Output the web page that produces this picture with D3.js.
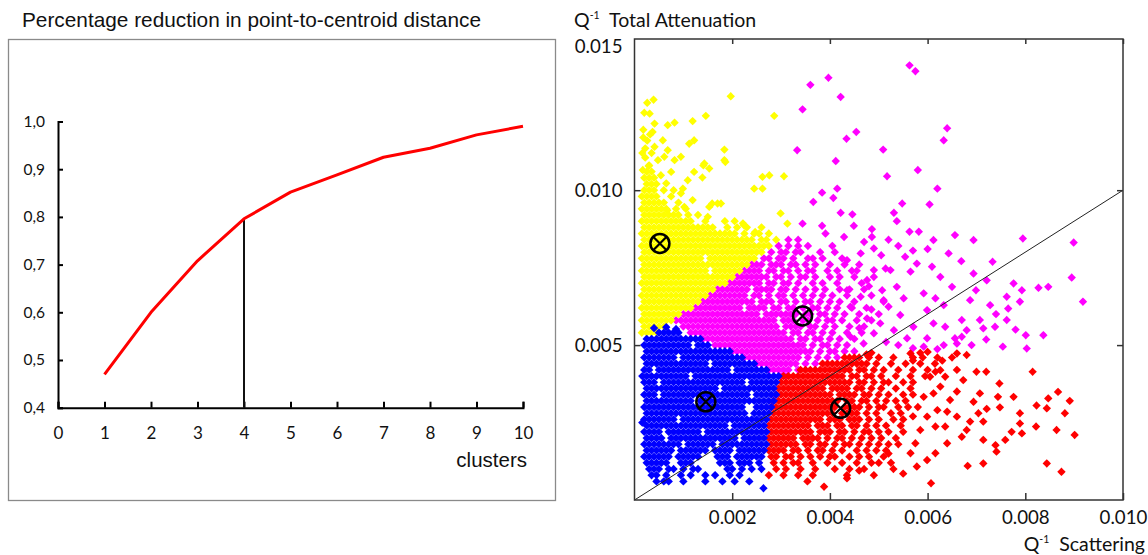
<!DOCTYPE html>
<html>
<head>
<meta charset="utf-8">
<script src="https://cdn.jsdelivr.net/npm/d3@7"></script>
<style>
  body { margin: 0; background: #fff; }
  svg { display: block; }
  .tick text { font-family: Lato, "Open Sans", sans-serif; fill: #111; }
</style>
</head>
<body>
<svg id="chart"></svg>
<script>
// --- Left panel data: reduction vs number of clusters ---
const clusterTicks = [0, 1, 2, 3, 4, 5, 6, 7, 8, 9, 10];
const clusterCounts = [1, 2, 3, 4, 5, 6, 7, 8, 9, 10];
const reduction = [0.47, 0.60, 0.708, 0.796, 0.852, 0.888, 0.925, 0.944, 0.972, 0.99];
const reductionTicks = [0.4, 0.5, 0.6, 0.7, 0.8, 0.9, 1.0];
const chosenK = 4;

// --- Right panel data (values in units of 1e-4) ---
// rows: [y, x, x, x, ...]
const blueRows = [
  [54, 5, 6, 7, 8, 9],
  [52, 2.5, 3.5, 4.5, 5.5, 6.5, 7.5, 8.5, 9.5, 10.5, 11.5, 12.5, 13.5],
  [50, 2, 3, 4, 5, 6, 7, 8, 9, 10, 11, 13, 14, 15],
  [48, 2.5, 3.5, 4.5, 5.5, 6.5, 7.5, 8.5, 9.5, 10.5, 11.5, 12.5, 13.5, 14.5, 15.5, 16.5, 17.5, 18.5, 19.5],
  [46, 2, 3, 4, 5, 6, 7, 8, 10, 11, 12, 13, 14, 15, 16, 17, 18, 19, 20, 21, 22],
  [44, 2.5, 3.5, 4.5, 5.5, 6.5, 7.5, 8.5, 9.5, 10.5, 11.5, 12.5, 13.5, 14.5, 16.5, 17.5, 18.5, 19.5, 20.5, 21.5, 22.5, 23.5, 24.5],
  [42, 2, 3, 5, 6, 7, 8, 9, 10, 11, 12, 13, 14, 15, 16, 17, 18, 19, 21, 22, 23, 24, 25, 26, 27],
  [40, 2.5, 3.5, 4.5, 5.5, 6.5, 7.5, 8.5, 9.5, 10.5, 12.5, 13.5, 14.5, 15.5, 16.5, 17.5, 18.5, 19.5, 20.5, 21.5, 22.5, 23.5, 24.5, 25.5, 26.5, 27.5, 28.5, 29.5],
  [38, 2, 3, 4, 6, 7, 8, 9, 10, 11, 12, 13, 14, 15, 16, 17, 18, 19, 20, 21, 22, 24, 25, 26, 27, 28, 29],
  [36, 2.5, 3.5, 4.5, 5.5, 6.5, 7.5, 8.5, 9.5, 10.5, 11.5, 12.5, 13.5, 14.5, 15.5, 16.5, 18.5, 19.5, 20.5, 21.5, 22.5, 23.5, 24.5, 25.5, 26.5, 27.5, 28.5],
  [34, 2, 3, 4, 6, 7, 8, 9, 10, 11, 12, 13, 14, 15, 16, 17, 18, 19, 20, 21, 22, 23, 25, 26, 27, 28, 29],
  [32, 2.5, 3.5, 4.5, 5.5, 6.5, 7.5, 8.5, 9.5, 10.5, 11.5, 13.5, 14.5, 15.5, 16.5, 17.5, 18.5, 19.5, 20.5, 21.5, 22.5, 23.5, 24.5, 25.5, 26.5, 27.5, 28.5],
  [30, 2, 3, 4, 5, 6, 7, 8, 9, 10, 11, 12, 13, 14, 15, 16, 17, 18, 19, 20, 21, 22, 25, 26, 27, 28],
  [28, 2.5, 3.5, 4.5, 5.5, 6.5, 7.5, 8.5, 9.5, 10.5, 11.5, 12.5, 13.5, 14.5, 15.5, 16.5, 17.5, 18.5, 19.5, 20.5, 21.5, 22.5, 24.5, 25.5, 26.5, 27.5],
  [26, 2, 3, 4, 5, 6, 7, 8, 10, 11, 12, 13, 14, 15, 16, 17, 18, 19, 20, 21, 22, 23, 24, 25, 26, 27],
  [24, 2.5, 3.5, 4.5, 5.5, 6.5, 7.5, 8.5, 9.5, 10.5, 11.5, 12.5, 13.5, 14.5, 15.5, 16.5, 17.5, 18.5, 20.5, 21.5, 22.5, 23.5, 24.5, 25.5, 26.5],
  [22, 2, 3, 4, 5, 7, 8, 9, 10, 11, 12, 13, 15, 16, 17, 18, 19, 20, 21, 22, 23, 24, 25, 26, 27],
  [20, 2.5, 3.5, 4.5, 5.5, 7.5, 8.5, 9.5, 10.5, 11.5, 12.5, 13.5, 14.5, 15.5, 16.5, 17.5, 18.5, 19.5, 20.5, 22.5, 23.5, 24.5, 25.5, 26.5],
  [18, 2, 3, 4, 5, 6, 7, 8, 9, 11, 12, 13, 14, 15, 16, 18, 19, 20, 21, 22, 23, 24, 25, 26, 27],
  [16, 2.5, 3.5, 4.5, 5.5, 6.5, 7.5, 9.5, 10.5, 11.5, 12.5, 13.5, 14.5, 16.5, 17.5, 18.5, 19.5, 21.5, 22.5, 23.5, 24.5, 25.5, 26.5],
  [14, 2, 3, 4, 5, 6, 7, 9, 10, 11, 12, 13, 17, 18, 19, 21, 22, 23, 24, 25, 26],
  [12, 2.5, 3.5, 4.5, 5.5, 6.5, 9.5, 10.5, 11.5, 17.5, 18.5, 19.5, 21.5, 22.5, 23.5, 25.5],
  [10, 3, 4, 5, 7, 8, 10, 12, 13, 19, 20, 22, 24, 26],
  [8, 3.5, 4.5, 6.5, 9.5, 11.5, 14.5, 16.5, 19.5, 21.5],
  [6, 4.5, 6, 7, 10, 14.5, 18, 20.5, 23.5]
];
const blueExtra = [[26.4, 3.8], [4, 55.5], [6.5, 55.8], [1.6, 40], [1.6, 25], [8.5, 55.2]];

const yellowRows = [
  [106, 2.5, 3.5],
  [104, 2, 3, 4],
  [102, 2.5, 3.5, 4.5],
  [100, 2, 3, 4, 6],
  [98, 1.5, 2.5, 3.5, 4.5, 7.5],
  [96, 2, 3, 4, 5, 6, 9],
  [94, 1.5, 2.5, 3.5, 4.5, 5.5, 6.5, 8.5, 10.5],
  [92, 2, 3, 4, 5, 6, 7, 8, 9, 11, 13],
  [90, 1.5, 2.5, 3.5, 4.5, 5.5, 6.5, 7.5, 8.5, 9.5, 10.5, 11.5, 14.5, 18.5, 20.5],
  [88, 2, 3, 4, 5, 6, 7, 8, 9, 10, 11, 12, 13, 14, 15, 16, 19, 21, 23, 26],
  [86, 1.5, 2.5, 3.5, 4.5, 5.5, 6.5, 7.5, 8.5, 9.5, 10.5, 11.5, 12.5, 13.5, 14.5, 15.5, 16.5, 17.5, 18.5, 19.5, 20.5, 22.5, 24.5, 25.5, 27.5],
  [84, 2, 3, 4, 5, 6, 7, 8, 9, 10, 11, 12, 13, 14, 15, 16, 17, 18, 19, 20, 21, 22, 23, 24, 26, 27, 29],
  [82, 1.5, 2.5, 3.5, 4.5, 5.5, 6.5, 7.5, 8.5, 9.5, 10.5, 11.5, 12.5, 13.5, 14.5, 15.5, 16.5, 17.5, 18.5, 19.5, 20.5, 21.5, 22.5, 23.5, 24.5, 25.5, 26.5, 27.5],
  [80, 2, 3, 4, 5, 6, 7, 8, 9, 10, 11, 12, 13, 14, 15, 16, 17, 18, 19, 20, 21, 22, 23, 24, 25, 26],
  [78, 1.5, 2.5, 3.5, 4.5, 5.5, 6.5, 7.5, 8.5, 9.5, 10.5, 11.5, 12.5, 13.5, 15.5, 16.5, 17.5, 18.5, 19.5, 20.5, 21.5, 22.5, 23.5, 24.5],
  [76, 2, 3, 4, 5, 6, 7, 8, 9, 10, 11, 12, 13, 14, 15, 16, 17, 18, 19, 20, 21, 22, 23],
  [74, 1.5, 2.5, 3.5, 4.5, 5.5, 6.5, 7.5, 8.5, 9.5, 10.5, 11.5, 12.5, 13.5, 14.5, 16.5, 17.5, 18.5, 19.5, 20.5, 21.5],
  [72, 2, 3, 4, 5, 6, 7, 8, 9, 10, 11, 12, 13, 14, 15, 16, 17, 18, 19, 20],
  [70, 1.5, 2.5, 3.5, 4.5, 5.5, 6.5, 7.5, 8.5, 9.5, 10.5, 11.5, 12.5, 13.5, 14.5, 15.5, 16.5, 17.5, 18.5],
  [68, 2, 3, 4, 5, 6, 7, 8, 9, 10, 11, 12, 13, 14, 15, 16],
  [66, 1.5, 2.5, 3.5, 4.5, 5.5, 6.5, 7.5, 8.5, 9.5, 10.5, 11.5, 12.5, 13.5, 14.5],
  [64, 2, 3, 4, 5, 6, 7, 8, 9, 10, 11, 12, 13],
  [62, 1.5, 2.5, 3.5, 4.5, 5.5, 6.5, 7.5, 8.5, 9.5, 10.5, 11.5],
  [60, 2, 3, 4, 5, 6, 7, 8, 9],
  [58, 1.5, 2.5, 3.5, 4.5, 5.5, 6.5, 7.5],
  [56, 2, 3, 4, 5, 6],
  [54, 1.5, 2.5, 3.5, 4.5]
];
const yellowExtra = [
  [2.6, 128.2], [3.9, 129.2], [2.0, 125], [3.1, 124.7], [4.1, 121.5], [6.8, 121], [8.2, 121.8],
  [11.9, 122.3], [14.6, 124], [19.7, 130.3], [28.6, 124], [3.7, 118.8], [5.8, 116.1], [4.1, 114],
  [12.2, 116.1], [11.2, 115], [6.8, 112.9], [18.4, 113.1], [18.4, 109.7], [14.3, 108.6], [15.3, 107],
  [12.2, 105.9], [13.9, 104.1], [9.5, 110.8], [6.1, 110.8], [4.8, 109.7], [8.2, 109.7], [26.2, 104.3],
  [27.6, 104.8], [30.6, 104.5], [24.5, 100.5], [26.2, 100.5], [9.9, 100.5], [5.4, 104.8], [6.5, 102.2],
  [11.9, 96.8], [15.3, 94.6], [17.7, 95.7], [22.4, 88.7], [29.9, 92.5], [31.3, 89.2], [17, 95.7],
  [10.2, 94.6], [9.5, 99], [15, 91.4], [10.9, 103.2], [7.5, 105.9], [14.1, 108], [18.6, 109.1],
  [15.9, 95.7], [22.2, 89.3], [24.7, 86.5], [8, 100], [6.7, 93.5], [3, 108], [2.2, 110.5], [3.5, 112],
  [2.6, 116], [3.2, 118], [1.8, 119.5], [2.2, 113.5], [1.8, 117], [1.6, 112], [2.9, 107.8], [1.7, 106.5]
];

const magentaRows = [
  [84, 31.5, 33.5],
  [82, 29.5, 31.5, 33.5, 35.5, 40.5],
  [80, 28, 30, 31, 33, 34, 38, 41],
  [78, 26.5, 27.5, 29.5, 30.5, 32.5, 35.5, 36.5, 38.5, 42.5],
  [76, 24, 25, 26, 28, 29, 30, 32, 33, 35, 37, 40, 43, 46],
  [74, 22.5, 23.5, 24.5, 25.5, 27.5, 28.5, 30.5, 31.5, 33.5, 35.5, 36.5, 39.5, 41.5, 44.5],
  [72, 21, 22, 23, 24, 25, 26, 27, 29, 30, 32, 34, 35, 37, 40, 42, 45, 49],
  [70, 19.5, 20.5, 21.5, 22.5, 23.5, 24.5, 25.5, 27.5, 28.5, 30.5, 31.5, 33.5, 36.5, 38.5, 41.5, 46.5],
  [68, 17, 18, 19, 20, 21, 22, 23, 25, 26, 27, 28, 30, 31, 33, 35, 37, 39, 42, 44, 47],
  [66, 15.5, 16.5, 17.5, 18.5, 19.5, 20.5, 21.5, 22.5, 24.5, 25.5, 27.5, 29.5, 30.5, 32.5, 34.5, 36.5, 38.5, 40.5, 43.5, 48.5],
  [64, 14, 15, 16, 17, 18, 19, 20, 21, 22, 23, 24, 26, 27, 28, 30, 31, 33, 35, 36, 38, 40, 42, 45, 51],
  [62, 12.5, 13.5, 14.5, 15.5, 16.5, 17.5, 18.5, 19.5, 20.5, 21.5, 23.5, 24.5, 25.5, 26.5, 28.5, 29.5, 31.5, 32.5, 34.5, 36.5, 37.5, 39.5, 41.5, 44.5, 47.5],
  [60, 10, 11, 12, 13, 14, 15, 16, 17, 18, 19, 20, 21, 22, 23, 24, 25, 27, 28, 29, 30, 31, 32, 33, 35, 36, 38, 39, 41, 43, 46, 50],
  [58, 8.5, 9.5, 10.5, 11.5, 12.5, 13.5, 14.5, 15.5, 16.5, 17.5, 18.5, 19.5, 20.5, 21.5, 22.5, 23.5, 24.5, 25.5, 26.5, 27.5, 28.5, 30.5, 31.5, 32.5, 34.5, 35.5, 37.5, 39.5, 40.5, 42.5, 45.5, 48.5],
  [56, 10, 11, 12, 13, 14, 15, 16, 17, 18, 19, 20, 21, 22, 23, 24, 25, 26, 27, 28, 29, 31, 32, 33, 34, 36, 37, 39, 41, 44, 47],
  [54, 11.5, 12.5, 13.5, 14.5, 15.5, 16.5, 17.5, 18.5, 19.5, 20.5, 21.5, 22.5, 23.5, 24.5, 25.5, 26.5, 27.5, 28.5, 29.5, 30.5, 32.5, 33.5, 35.5, 36.5, 38.5, 40.5, 43.5, 46.5],
  [52, 14, 15, 16, 17, 18, 19, 20, 21, 22, 23, 24, 25, 26, 27, 28, 29, 30, 31, 32, 34, 35, 37, 38, 40, 42, 45],
  [50, 16.5, 17.5, 18.5, 19.5, 20.5, 21.5, 22.5, 23.5, 24.5, 25.5, 26.5, 27.5, 28.5, 29.5, 30.5, 31.5, 32.5, 33.5, 34.5, 36.5, 38.5, 39.5, 41.5, 43.5],
  [48, 20, 21, 22, 23, 24, 25, 26, 27, 28, 29, 30, 31, 32, 33, 34, 35, 36, 38, 40, 41, 43, 45],
  [46, 22.5, 23.5, 24.5, 25.5, 26.5, 27.5, 28.5, 29.5, 30.5, 31.5, 32.5, 33.5, 35.5, 37.5, 39.5, 41.5],
  [44, 25, 26, 27, 28, 29, 30, 31, 32, 33, 35, 37],
  [42, 27.5, 28.5, 29.5, 30.5, 31.5, 33.5],
  [40, 30, 31]
];
const magentaExtra = [
  [56.3, 140.3], [57.5, 138.4], [39.7, 136.3], [36, 134], [42.2, 130.1], [34.4, 126.1], [64, 120],
  [63.3, 116.1], [45.4, 118.8], [43.4, 116.6], [33.3, 112.9], [50.9, 113.1], [41.2, 109.4], [58, 106.5],
  [51.7, 104.5], [62, 100.5], [41.5, 100.5], [38.4, 99.2], [40.7, 97.5], [36.6, 96.2], [54.8, 95.7],
  [60.4, 95.4], [53.1, 92.7], [42.2, 92.7], [44.6, 92.2], [53.7, 90], [34.4, 89.2], [44.9, 88.5],
  [38.4, 88.5], [39.1, 86], [48.6, 87.4], [56.3, 86.6], [58.2, 86.6], [65.6, 85.5], [69.4, 83.9],
  [79.5, 84.4], [89.9, 83.1], [61.2, 83.9], [47, 83.3], [42.9, 84.9], [48.6, 84.9],
  [64.3, 79.6], [66.9, 77.1], [73.3, 76.9], [69.4, 73.1], [72.1, 70.9], [65, 68.8], [69.9, 67.7],
  [77.6, 69.9], [79.3, 67.7], [82.7, 68.5], [84.7, 68.8], [89.5, 71.8], [91.8, 64], [78.9, 64],
  [76.2, 65.6], [76.5, 61.8], [72.8, 62.9], [68.7, 64.5], [67, 58.1], [70.7, 58.1], [73.8, 55.9],
  [76.2, 58.1], [71.4, 55.4], [68, 54.8], [80.1, 53.2], [83.7, 53.2], [80.3, 48.9], [75.4, 49.5],
  [69, 50], [67, 52.7], [65.6, 52.2], [63.6, 55.9], [61.2, 57], [59.9, 61.3], [63.3, 62.9], [61.6, 65.1],
  [59.2, 66.7], [62.6, 72], [60.9, 75.3], [57.8, 76.3], [56.5, 73.7], [55.4, 78.5], [51.4, 74.7],
  [52.4, 74.2], [49, 74.2], [47.6, 71], [50.7, 67.7], [53.7, 68.8], [55.1, 65.1], [52, 62.4],
  [54.4, 59.7], [57.1, 55.9], [59.9, 52.2], [63.3, 50], [59.2, 49.5], [55.8, 52.2], [53.1, 54.8],
  [50.3, 57], [47.6, 58.6], [49, 53.8], [46.9, 50.5], [44.2, 52.7], [44.2, 62.4], [46.3, 65.6],
  [43.5, 67.7], [46.3, 79.6], [49, 81.2], [43.5, 77.4], [50.5, 79], [52, 84], [45.5, 74], [48, 69],
  [51, 64.5], [48.5, 61.5], [46, 55.5], [51.5, 51], [54, 50], [57, 49], [62, 48.7], [66, 50.5],
  [72, 51.8], [78, 55], [74, 60], [60, 81], [57, 80.5], [54, 82]
];

const redRows = [
  [46, 43, 44, 45, 46, 48, 50, 53, 57, 59, 62, 65],
  [44, 38.5, 39.5, 40.5, 41.5, 42.5, 43.5, 44.5, 45.5, 46.5, 47.5, 49.5, 52.5, 55.5, 58.5, 61.5],
  [42, 34, 35, 36, 37, 38, 39, 40, 41, 42, 43, 44, 46, 47, 49, 51, 54, 57, 60],
  [40, 30.5, 31.5, 32.5, 33.5, 34.5, 35.5, 36.5, 37.5, 38.5, 39.5, 40.5, 41.5, 42.5, 44.5, 45.5, 47.5, 48.5, 50.5, 53.5, 56.5, 59.5],
  [38, 30, 31, 32, 33, 34, 35, 36, 37, 38, 39, 40, 41, 42, 43, 44, 46, 47, 49, 51, 52, 55, 57],
  [36, 29.5, 30.5, 31.5, 32.5, 33.5, 34.5, 35.5, 36.5, 37.5, 38.5, 40.5, 41.5, 42.5, 43.5, 45.5, 46.5, 48.5, 50.5, 53.5, 56.5],
  [34, 29, 30, 31, 32, 33, 34, 35, 36, 37, 38, 39, 40, 42, 43, 44, 45, 47, 48, 50, 52, 55, 57],
  [32, 28.5, 29.5, 30.5, 31.5, 32.5, 33.5, 34.5, 35.5, 36.5, 37.5, 38.5, 39.5, 40.5, 41.5, 43.5, 44.5, 46.5, 47.5, 49.5, 51.5, 53.5, 55.5],
  [30, 28, 29, 30, 31, 32, 33, 34, 35, 36, 37, 38, 39, 40, 41, 43, 44, 45, 46, 48, 50, 51, 54, 56],
  [28, 28.5, 29.5, 30.5, 31.5, 32.5, 33.5, 34.5, 35.5, 36.5, 37.5, 38.5, 39.5, 40.5, 42.5, 43.5, 44.5, 45.5, 47.5, 49.5, 52.5, 54.5],
  [26, 28, 29, 30, 31, 32, 33, 34, 35, 36, 37, 38, 40, 41, 42, 44, 45, 46, 48, 50, 53, 55],
  [24, 27.5, 28.5, 29.5, 30.5, 31.5, 32.5, 33.5, 34.5, 35.5, 37.5, 38.5, 39.5, 41.5, 42.5, 44.5, 45.5, 47.5, 49.5, 51.5, 54.5],
  [22, 28, 29, 30, 31, 32, 33, 34, 35, 36, 38, 39, 40, 42, 43, 45, 47, 48, 50, 52, 55],
  [20, 27.5, 28.5, 29.5, 30.5, 31.5, 32.5, 34.5, 35.5, 36.5, 37.5, 39.5, 41.5, 42.5, 44.5, 46.5, 48.5, 50.5, 53.5],
  [18, 28, 29, 30, 31, 32, 33, 35, 36, 38, 39, 41, 43, 44, 46, 48, 50, 52, 54],
  [16, 27.5, 28.5, 29.5, 30.5, 32.5, 33.5, 35.5, 37.5, 38.5, 40.5, 42.5, 45.5, 47.5, 49.5, 51.5],
  [14, 28, 29, 31, 32, 34, 36, 38, 40, 41, 44, 46, 48, 51],
  [12, 28.5, 30.5, 32.5, 33.5, 36.5, 39.5, 42.5, 45.5, 48.5, 52.5],
  [10, 29, 31, 34, 37, 41, 44, 47],
  [8, 27.5, 30.5, 33.5, 36.5, 43.5]
];
const redExtra = [
  [74.7, 37.6], [77.6, 33.3], [74.4, 33.3], [74.8, 29.9], [72.1, 29.4], [78.9, 28], [84.7, 32.8],
  [86.7, 34.9], [89.1, 32], [82.3, 30.5], [84.4, 29.6], [88.1, 28], [78.9, 24.7], [77.2, 22],
  [79.3, 21.5], [82.2, 23.7], [86.4, 22.6], [90.1, 21], [73.9, 17.7], [75.9, 19.4], [71.4, 19.4],
  [68, 22.6], [68.7, 25.3], [71.4, 25.3], [70.4, 28], [69.4, 31.7], [70.7, 34.4], [72, 41.4], [70, 41.4],
  [81.5, 41.4], [66, 47.3], [68, 46.8], [84.4, 11.8], [87.4, 9.1], [71.4, 11.8], [68.2, 11], [74.1, 15.6],
  [67, 20.4], [64, 18.3], [63.6, 23.7], [66, 26.9], [64.6, 32.3], [67.3, 38.7], [63.6, 39.8], [61.6, 23.7],
  [60.7, 5.4], [59.9, 12.9], [61.6, 15.1], [57.8, 10.8], [56.5, 15.1], [57.5, 18.3], [58.5, 22.6],
  [59.9, 26.9], [59.2, 33.3], [61.2, 34.4], [62.6, 36.6], [60.5, 39.8], [61.6, 41.4], [62.6, 41.9],
  [38.8, 4.3], [43.5, 7], [35.4, 6], [47.5, 47], [48.5, 47.5], [56.5, 47.3], [58.5, 47.5], [60, 47.8],
  [53, 10], [50, 12], [55, 8.5], [49, 8], [46, 9.5], [52, 15], [57, 27], [58, 30], [62, 29], [64, 28.5],
  [66, 35], [63, 45], [66, 42], [57, 45]
];

const centroids = [[5.2, 82.8], [34.4, 59.4], [14.6, 31.7], [42.2, 29.6]];
const xTicksR = [0.002, 0.004, 0.006, 0.008, 0.010];
const yTicksR = [0.005, 0.010];
const UNIT = 1e-4;

// --- Setup SVG ---
const width = 1148, height = 555;
const svg = d3.select("#chart").attr("width", width).attr("height", height);

// ================= Left panel =================
const xL = d3.scaleLinear().domain([0, 10]).range([58, 523]);
const yL = d3.scaleLinear().domain([0.4, 1.0]).range([407.7, 121.5]);

svg.append("rect")
    .attr("x", 8.5).attr("y", 39.5).attr("width", 547).attr("height", 461)
    .attr("fill", "none").attr("stroke", "#8a8a8a").attr("stroke-width", 1.3);

svg.append("text")
    .attr("x", 22).attr("y", 27)
    .attr("font-family", "'Liberation Sans', Arial, sans-serif")
    .attr("font-size", 20.8).attr("fill", "#111")
    .text("Percentage reduction in point-to-centroid distance");

const xAxisL = svg.append("g")
    .attr("transform", `translate(0,${yL(0.4)})`)
    .call(d3.axisBottom(xL).tickValues(clusterTicks).tickSize(-6).tickPadding(19).tickFormat(d3.format("d")));
xAxisL.selectAll("text").attr("font-size", 17);

const yAxisL = svg.append("g")
    .attr("transform", `translate(${xL(0)},0)`)
    .call(d3.axisLeft(yL).tickValues(reductionTicks).tickSize(-5).tickPadding(13)
        .tickFormat(d => d3.format(".1f")(d).replace(".", ",")));
yAxisL.selectAll("text").attr("font-size", 15.5);

[xAxisL, yAxisL].forEach(g => {
    g.select(".domain").attr("stroke", "#000").attr("stroke-width", 2);
    g.selectAll(".tick line").attr("stroke", "#000").attr("stroke-width", 2);
});

svg.append("text")
    .attr("x", 527).attr("y", 467).attr("text-anchor", "end")
    .attr("font-family", "'Liberation Sans', Arial, sans-serif")
    .attr("font-size", 20.5).attr("fill", "#111")
    .text("clusters");

// chosen number of clusters
svg.append("line")
    .attr("x1", xL(chosenK)).attr("x2", xL(chosenK))
    .attr("y1", yL(0.4)).attr("y2", yL(reduction[clusterCounts.indexOf(chosenK)]))
    .attr("stroke", "#111").attr("stroke-width", 2);

svg.append("path")
    .datum(clusterCounts.map((k, i) => [k, reduction[i]]))
    .attr("fill", "none").attr("stroke", "#ff0000").attr("stroke-width", 3)
    .attr("stroke-linejoin", "round")
    .attr("d", d3.line().x(d => xL(d[0])).y(d => yL(d[1])));

// ================= Right panel =================
const xR = d3.scaleLinear().domain([0, 0.010]).range([634.5, 1123]);
const yR = d3.scaleLinear().domain([0, 0.01488]).range([500, 39]);

const toPoints = (rows, extra) =>
    rows.flatMap(([y, ...xs]) => xs.map(x => [x * UNIT, y * UNIT]))
        .concat(extra.map(([x, y]) => [x * UNIT, y * UNIT]));

const groups = [
    { name: "magenta", color: "#ff00ff", pts: toPoints(magentaRows, magentaExtra) },
    { name: "yellow", color: "#ffff00", pts: toPoints(yellowRows, yellowExtra) },
    { name: "red", color: "#ff0000", pts: toPoints(redRows, redExtra) },
    { name: "blue", color: "#0000ff", pts: toPoints(blueRows, blueExtra) }
];

const marker = "M0,-4.2L2.1,-2.1L4.2,0L2.1,2.1L0,4.2L-2.1,2.1L-4.2,0L-2.1,-2.1Z";

const plot = svg.append("g");
groups.forEach(g => {
    plot.append("g")
        .attr("class", "points " + g.name)
        .selectAll("path")
        .data(g.pts)
        .enter().append("path")
        .attr("d", marker)
        .attr("fill", g.color)
        .attr("transform", d => `translate(${xR(d[0])},${yR(d[1])})`);
});

// y = x reference line
svg.append("line")
    .attr("x1", xR(0)).attr("y1", yR(0))
    .attr("x2", xR(0.010)).attr("y2", yR(0.010))
    .attr("stroke", "#222").attr("stroke-width", 1);

// centroids
const cg = svg.append("g").selectAll("g")
    .data(centroids)
    .enter().append("g")
    .attr("transform", d => `translate(${xR(d[0] * UNIT)},${yR(d[1] * UNIT)})`);
cg.append("circle").attr("r", 9.5).attr("fill", "none").attr("stroke", "#000").attr("stroke-width", 2.5);
cg.append("path").attr("d", "M-6.7,-6.7L6.7,6.7M-6.7,6.7L6.7,-6.7")
    .attr("stroke", "#000").attr("stroke-width", 2.2);

// frame + ticks
svg.append("rect")
    .attr("x", xR(0)).attr("y", yR.range()[1])
    .attr("width", xR(0.010) - xR(0)).attr("height", yR(0) - yR.range()[1])
    .attr("fill", "none").attr("stroke", "#333").attr("stroke-width", 1.5);

const axB = svg.append("g").attr("transform", `translate(0,${yR(0)})`)
    .call(d3.axisBottom(xR).tickValues(xTicksR).tickSize(-7).tickPadding(11).tickFormat(d3.format(".3f")));
axB.selectAll("text").attr("font-size", 18.7);
const axT = svg.append("g").attr("transform", `translate(0,${yR.range()[1]})`)
    .call(d3.axisTop(xR).tickValues(xTicksR).tickSize(-5).tickFormat(""));
const axLft = svg.append("g").attr("transform", `translate(${xR(0)},0)`)
    .call(d3.axisLeft(yR).tickValues(yTicksR).tickSize(-6).tickPadding(12).tickFormat(d3.format(".3f")));
axLft.selectAll("text").attr("font-size", 18.7);
const axRt = svg.append("g").attr("transform", `translate(${xR(0.010)},0)`)
    .call(d3.axisRight(yR).tickValues(yTicksR).tickSize(-6).tickFormat(""));
[axB, axT, axLft, axRt].forEach(g => {
    g.select(".domain").remove();
    g.selectAll(".tick line").attr("stroke", "#333").attr("stroke-width", 1.5);
});

// top label of the y axis
svg.append("text")
    .attr("x", xR(0) - 12).attr("y", yR.range()[1] + 7).attr("dy", "0.35em")
    .attr("text-anchor", "end")
    .attr("font-family", "Lato, sans-serif").attr("font-size", 18.7).attr("fill", "#111")
    .text("0.015");

// axis titles
function qLabel(x, y, anchor, rest) {
    const t = svg.append("text")
        .attr("x", x).attr("y", y).attr("text-anchor", anchor)
        .attr("font-family", "Lato, sans-serif").attr("font-size", 19.5).attr("fill", "#111");
    t.append("tspan").text("Q");
    t.append("tspan").attr("font-size", 10.5).attr("dy", -8).text("-1");
    t.append("tspan").attr("dy", 8).text("\u00a0 " + rest);
}
qLabel(574, 27, "start", "Total Attenuation");
qLabel(1145, 551, "end", "Scattering");
</script>
</body>
</html>
